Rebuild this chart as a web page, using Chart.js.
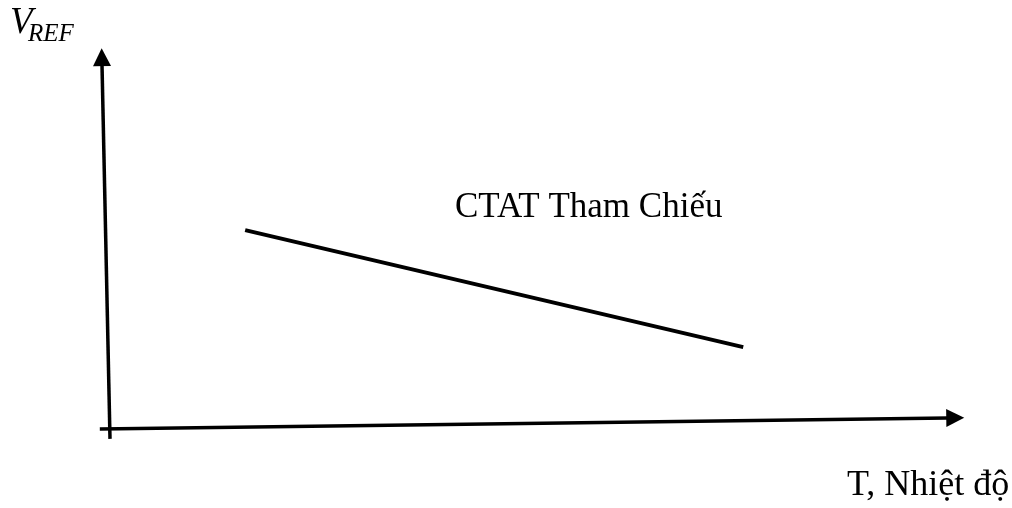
<!DOCTYPE html>
<html>
<head>
<meta charset="utf-8">
<script src="https://cdn.jsdelivr.net/npm/chart.js@4.4.1/dist/chart.umd.min.js"></script>
<style>
html,body{margin:0;padding:0;background:#fff;}
#wrap{width:1012px;height:508px;position:relative;}
</style>
</head>
<body>
<div id="wrap"><canvas id="c" width="1012" height="508"></canvas></div>
<script>
// Schematic data (abstract units: T 0..100, V 0..100)
const ctatT = [15.9, 74.5];
const ctatV = [52.2, 21.5];
const yAxisT = [0, -0.94];
const yAxisV = [-2.6, 95.5];
const xAxisT = [-1.2, 98.5];
const xAxisV = [0, 2.9];
const labels = {
  ctat: 'CTAT Tham Chiếu',
  xTitle: 'T, Nhiệt độ',
  yMain: 'V',
  ySub: 'REF'
};

const toPts = (xs, ys) => xs.map((x, i) => ({x: x, y: ys[i]}));

const arrowPlugin = {
  id: 'arrows',
  afterDatasetsDraw(chart) {
    const ctx = chart.ctx;
    const xs = chart.scales.x, ys = chart.scales.y;
    [1, 2].forEach(di => {
      const d = chart.data.datasets[di].data;
      const a = d[d.length - 2], b = d[d.length - 1];
      const ax = xs.getPixelForValue(a.x), ay = ys.getPixelForValue(a.y);
      const bx = xs.getPixelForValue(b.x), by = ys.getPixelForValue(b.y);
      const ang = Math.atan2(by - ay, bx - ax);
      const L = 17, W = 9;
      ctx.save();
      ctx.translate(bx, by);
      ctx.rotate(ang);
      ctx.beginPath();
      ctx.moveTo(L, 0);
      ctx.lineTo(-1, -W);
      ctx.lineTo(-1, W);
      ctx.closePath();
      ctx.fillStyle = '#000';
      ctx.fill();
      ctx.restore();
    });
    // Texts
    ctx.save();
    ctx.fillStyle = '#000';
    ctx.textBaseline = 'alphabetic';
    ctx.textAlign = 'left';
    ctx.font = '35px "Liberation Serif", "Times New Roman", serif';
    ctx.fillText(labels.ctat, 455, 217);
    ctx.font = '36px "Liberation Serif", "Times New Roman", serif';
    ctx.fillText(labels.xTitle, 847, 495);
    ctx.font = 'italic 37px "Liberation Serif", "Times New Roman", serif';
    ctx.fillText(labels.yMain, 10, 33);
    ctx.font = 'italic 25px "Liberation Serif", "Times New Roman", serif';
    ctx.fillText(labels.ySub, 28, 41);
    ctx.restore();
  }
};

new Chart(document.getElementById('c'), {
  type: 'scatter',
  data: {
    datasets: [
      {data: toPts(ctatT, ctatV), showLine: true, borderColor: '#000', borderWidth: 4, pointRadius: 0, borderCapStyle: 'butt', clip: false},
      {data: toPts(yAxisT, yAxisV), showLine: true, borderColor: '#000', borderWidth: 3.5, pointRadius: 0, borderCapStyle: 'butt', clip: false},
      {data: toPts(xAxisT, xAxisV), showLine: true, borderColor: '#000', borderWidth: 3.5, pointRadius: 0, borderCapStyle: 'butt', clip: false}
    ]
  },
  options: {
    responsive: false,
    animation: false,
    devicePixelRatio: 1,
    layout: {padding: {left: 110, right: 52, top: 48, bottom: 79}},
    plugins: {legend: {display: false}, tooltip: {enabled: false}},
    scales: {
      x: {type: 'linear', min: 0, max: 100, display: false},
      y: {type: 'linear', min: 0, max: 100, display: false}
    }
  },
  plugins: [arrowPlugin]
});
</script>
</body>
</html>
